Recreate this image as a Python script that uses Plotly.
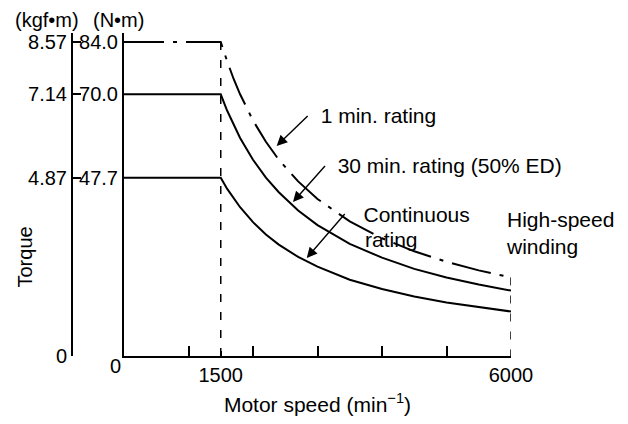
import plotly.graph_objects as go

# ---- data ----
speed = [0, 1500, 1600, 1700, 1800, 2000, 2200, 2400, 2700, 3000, 3500, 4000, 4500, 5000, 5500, 6000]
one_min = [84.0, 84.0, 78.8, 74.1, 70.0, 63.0, 57.3, 52.5, 46.7, 42.0, 36.0, 31.5, 28.0, 25.2, 22.9, 21.0]
thirty_min = [70.0, 70.0, 65.6, 61.8, 58.3, 52.5, 47.7, 43.8, 38.9, 35.0, 30.0, 26.3, 23.3, 21.0, 19.1, 17.5]
continuous = [47.7, 47.7, 44.7, 42.1, 39.8, 35.8, 32.5, 29.8, 26.5, 23.9, 20.4, 17.9, 15.9, 14.3, 13.0, 11.9]

nm_ticks = [47.7, 70.0, 84.0]
nm_labels = ["47.7", "70.0", "84.0"]
kgf_ticks = [0, 47.7, 70.0, 84.0]
kgf_labels = ["0", "4.87", "7.14", "8.57"]
x_label_vals = [1500, 6000]
x_labels = ["1500", "6000"]

FONT = "Liberation Sans, Arial, Helvetica, sans-serif"
FS = 20
FS_LBL = 21
OFF = 8  # default page body margin in the browser
W, H = 628 - OFF, 424 - OFF
# plot area in screen pixels: x 10..511, y 33..356
SX0, SX1, SY0, SY1 = 10, 511, 33, 356
ML, MR, MT, MB = SX0 - OFF, (W + OFF) - SX1, SY0 - OFF, (H + OFF) - SY1
PW = SX1 - SX0
PH = SY1 - SY0
X0 = 124  # screen x of main (N·m) axis
NB = "\u00a0"


def px(xp):
    return (xp - SX0) / PW


def py(yp):
    return (SY1 - yp) / PH


fig = go.Figure()

line_common = dict(color="black", width=2)
fig.add_trace(go.Scatter(x=speed, y=continuous, mode="lines", line=line_common,
                         cliponaxis=False, showlegend=False))
fig.add_trace(go.Scatter(x=speed, y=thirty_min, mode="lines", line=line_common,
                         cliponaxis=False, showlegend=False))
fig.add_trace(go.Scatter(x=speed, y=one_min, mode="lines",
                         line=dict(color="black", width=2, dash="40px,9px,4px,9px"),
                         cliponaxis=False, showlegend=False))

# vertical dashed guide lines at base speed and max speed (on kgf axis, same range)
fig.add_trace(go.Scatter(
    x=[speed[1], speed[1], None, speed[-1], speed[-1]],
    y=[one_min[1], 0, None, one_min[-1], 0],
    mode="lines", line=dict(color="black", width=1.5, dash="8px,10px"),
    yaxis="y2", cliponaxis=False, showlegend=False))

yr = [0, 86.4]
fig.update_layout(
    width=W, height=H,
    margin=dict(l=ML, r=MR, t=MT, b=MB),
    paper_bgcolor="white", plot_bgcolor="white",
    font=dict(family=FONT, size=FS, color="black"),
    xaxis=dict(
        domain=[px(X0), 1], range=[0, 6000],
        showline=True, linewidth=2, linecolor="black",
        showgrid=False, zeroline=False,
        ticks="inside", ticklen=5, tickwidth=1.5, tickcolor="black",
        tickmode="array", tickvals=x_label_vals, ticktext=x_labels,
        minor=dict(ticks="inside", ticklen=10, tickwidth=1.5, tickcolor="black",
                   dtick=1000, tick0=0),
        title=dict(text="Motor speed (min<sup>−1</sup>)", standoff=12,
                   font=dict(size=FS_LBL)),
    ),
    yaxis=dict(
        range=yr, anchor="x",
        showline=True, linewidth=2, linecolor="black",
        showgrid=False, zeroline=False,
        ticks="", tickmode="array", tickvals=nm_ticks, ticktext=nm_labels,
    ),
    yaxis2=dict(
        range=yr, overlaying="y", anchor="free", position=px(72), side="left",
        showline=True, linewidth=2, linecolor="black",
        showgrid=False, zeroline=False,
        ticks="inside", ticklen=8, tickwidth=1.5, tickcolor="black",
        tickmode="array", tickvals=kgf_ticks, ticktext=kgf_labels,
    ),
)

ann = []
ann.append(dict(text="(kgf•m)", x=px(46.5), y=py(20), xref="paper", yref="paper",
                xanchor="center", yanchor="middle", showarrow=False))
ann.append(dict(text="(N•m)", x=px(118), y=py(20), xref="paper", yref="paper",
                xanchor="center", yanchor="middle", showarrow=False))
ann.append(dict(text="Torque", x=px(24.5), y=py(257), xref="paper", yref="paper",
                xanchor="center", yanchor="middle", textangle=-90, showarrow=False))
ann.append(dict(text="0", x=px(123), y=py(366), xref="paper", yref="paper",
                xanchor="right", yanchor="middle", showarrow=False))
ann.append(dict(text="rating", x=px(363), y=py(239), xref="paper",
                yref="paper", xanchor="left", yanchor="middle",
                font=dict(size=FS_LBL), showarrow=False))
ann.append(dict(text="High-speed<br>winding", x=px(504), y=py(233), xref="paper",
                yref="paper", xanchor="left", yanchor="middle", align="left",
                font=dict(size=FS_LBL), showarrow=False))

# labels with arrows: arrow starts at the left edge of the label text
arrow_style = dict(showarrow=True, arrowhead=2, arrowsize=1.5, arrowwidth=1.4,
                   arrowcolor="black", xref="x", yref="y", standoff=0,
                   xanchor="left", yanchor="middle", font=dict(size=FS_LBL),
                   borderpad=0)
ann.append(dict(text=NB * 2 + "1 min. rating", x=2367, y=56.2, ax=31, ay=-30,
                **arrow_style))
ann.append(dict(text=NB * 2 + "30 min. rating (50% ED)", x=2620, y=41.2, ax=32, ay=-36,
                **arrow_style))
ann.append(dict(text=NB * 3 + "Continuous", x=2833, y=26.2, ax=38, ay=-44,
                **arrow_style))

fig.update_layout(annotations=ann)

fig.write_html("out.html")
